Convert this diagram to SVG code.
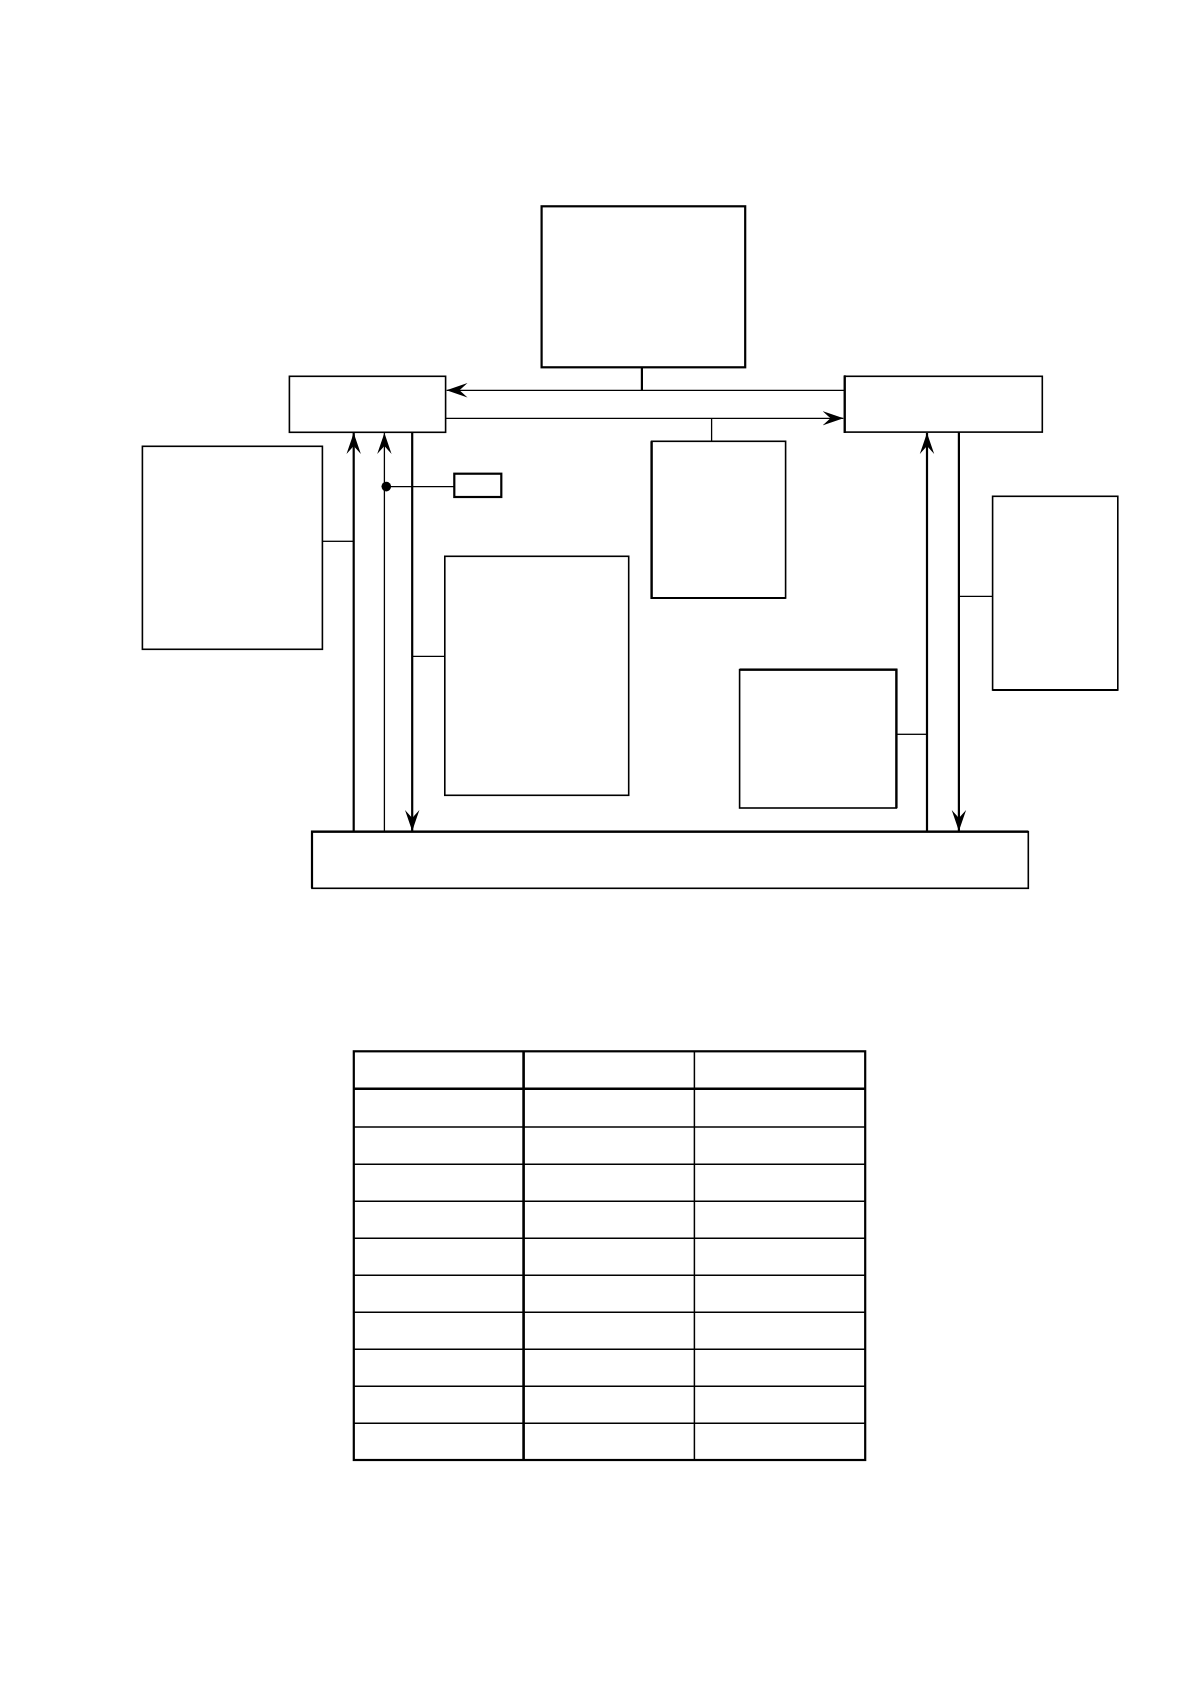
<svg xmlns="http://www.w3.org/2000/svg" width="1190" height="1684" viewBox="0 0 1190 1684">
<style>
.box{fill:#fff;stroke:#000;stroke-width:1.6}
.thick{fill:#fff;stroke:#000;stroke-width:2.2}
.w{stroke:#000;stroke-width:2.2;fill:none}
.t{stroke:#000;stroke-width:1.3;fill:none}
.tb{stroke:#000;fill:none}
</style>
<defs>
<marker id="arr" viewBox="0 0 22 16" refX="21" refY="8" markerWidth="22" markerHeight="16" markerUnits="userSpaceOnUse" orient="auto">
<path d="M21,8 L0,0.8 L8,8 L0,15.2 Z" fill="#000"/>
</marker>
</defs>
<rect width="1190" height="1684" fill="#fff"/>
<g id="connectors">
<line class="w" x1="641.9" y1="367.3" x2="641.9" y2="390.3"/>
<line class="t" x1="844.5" y1="390.3" x2="446.5" y2="390.3" marker-end="url(#arr)"/>
<line class="t" x1="445" y1="418.3" x2="843.5" y2="418.3" marker-end="url(#arr)"/>
<line class="t" x1="711.6" y1="418.3" x2="711.6" y2="441.3"/>
<line class="w" x1="353.7" y1="831.7" x2="353.7" y2="433" marker-end="url(#arr)"/>
<line class="t" x1="384.4" y1="831.7" x2="384.4" y2="433" marker-end="url(#arr)"/>
<line class="w" x1="412.2" y1="431" x2="412.2" y2="831" marker-end="url(#arr)"/>
<line class="w" x1="927" y1="831.7" x2="927" y2="433" marker-end="url(#arr)"/>
<line class="w" x1="958.9" y1="431" x2="958.9" y2="831" marker-end="url(#arr)"/>
<line class="t" x1="322.4" y1="541.3" x2="353.7" y2="541.3"/>
<line class="t" x1="386.3" y1="486.6" x2="454.3" y2="486.6"/>
<circle cx="386.3" cy="486.6" r="4.8" fill="#000"/>
<line class="t" x1="412.2" y1="656.3" x2="444.8" y2="656.3"/>
<line class="t" x1="958.9" y1="596.3" x2="992.6" y2="596.3"/>
<line class="t" x1="896.4" y1="734.3" x2="927" y2="734.3"/>
</g>
<g id="node-top"><rect class="thick" x="541.6" y="206.3" width="203.6" height="161"/></g>
<g id="node-left-small"><rect class="box" x="289.4" y="376.3" width="156.2" height="56"/></g>
<g id="node-right-small"><rect class="box" x="844.7" y="376.3" width="197.6" height="55.8"/><line class="w" x1="844.7" y1="375.5" x2="844.7" y2="433"/></g>
<g id="node-left-big"><rect class="box" x="142.4" y="446.3" width="180" height="203"/></g>
<g id="node-tiny"><rect class="thick" x="454.3" y="473.7" width="47" height="23.3"/></g>
<g id="node-mid-left"><rect class="box" x="444.8" y="556.3" width="183.9" height="239"/></g>
<g id="node-mid"><rect class="box" x="651.6" y="441.3" width="134" height="156.7"/><path class="w" d="M651.6,441.3 V598 H785.6"/></g>
<g id="node-lower-mid"><rect class="box" x="739.6" y="669.7" width="156.8" height="138.3"/><path class="w" d="M739.6,669.7 H896.4 V808"/></g>
<g id="node-right-big"><rect class="box" x="992.6" y="496.3" width="125.2" height="193.7"/><line class="w" x1="992.6" y1="690" x2="1117.8" y2="690"/></g>
<g id="node-bottom"><rect class="box" x="312" y="831.7" width="716.3" height="56.6"/><path class="w" d="M312,888.3 V831.7 H1028.3"/></g>
<g id="table">
<rect class="thick" x="353.8" y="1051.3" width="511.4" height="408.7" fill="none"/>
<line class="tb" stroke-width="2.6" x1="523.6" y1="1051.3" x2="523.6" y2="1460"/>
<line class="tb" stroke-width="1.5" x1="694.4" y1="1051.3" x2="694.4" y2="1460"/>
<line class="tb" stroke-width="2.6" x1="353.8" y1="1088.7" x2="865.2" y2="1088.7"/>
<line class="tb" stroke-width="1.5" x1="353.8" y1="1127" x2="865.2" y2="1127"/>
<line class="tb" stroke-width="1.5" x1="353.8" y1="1164.3" x2="865.2" y2="1164.3"/>
<line class="tb" stroke-width="1.5" x1="353.8" y1="1201.3" x2="865.2" y2="1201.3"/>
<line class="tb" stroke-width="1.5" x1="353.8" y1="1238.3" x2="865.2" y2="1238.3"/>
<line class="tb" stroke-width="1.5" x1="353.8" y1="1275.3" x2="865.2" y2="1275.3"/>
<line class="tb" stroke-width="1.5" x1="353.8" y1="1312.3" x2="865.2" y2="1312.3"/>
<line class="tb" stroke-width="1.5" x1="353.8" y1="1349.3" x2="865.2" y2="1349.3"/>
<line class="tb" stroke-width="1.5" x1="353.8" y1="1386.3" x2="865.2" y2="1386.3"/>
<line class="tb" stroke-width="1.5" x1="353.8" y1="1423.3" x2="865.2" y2="1423.3"/>
</g>
</svg>
